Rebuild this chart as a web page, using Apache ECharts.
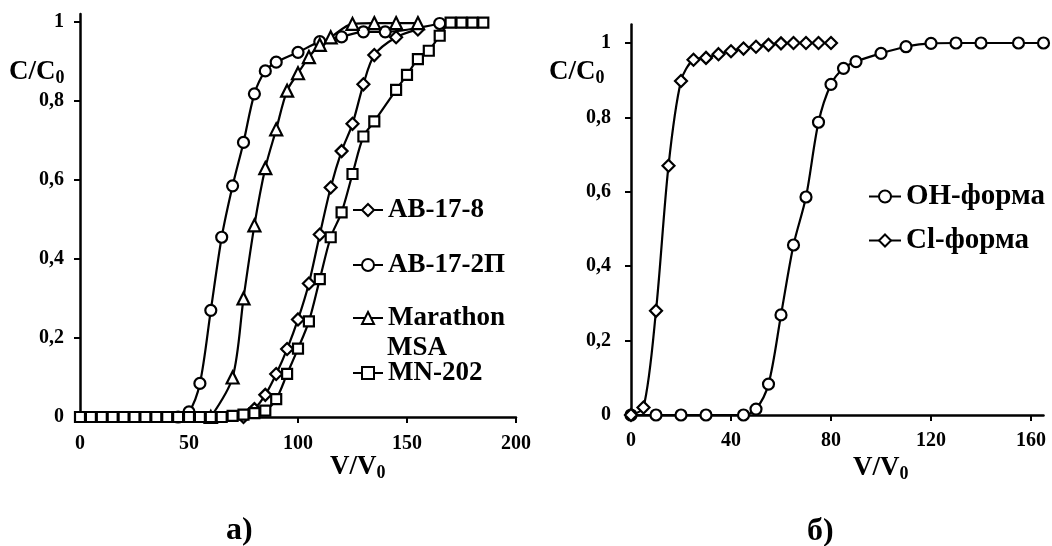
<!DOCTYPE html>
<html><head><meta charset="utf-8">
<script src="https://cdn.jsdelivr.net/npm/echarts@6/dist/echarts.min.js"></script>
<style>html,body{margin:0;padding:0;background:#fff}#c{width:1052px;height:546px}</style>
</head><body><div id="c"></div>
<script>
// ---- Panel а) ----
const ab178_x = [75,80,85,90,95,100,105,110,115,120,125,130,135,145,155];
const ab178_y = [0,0.02,0.056,0.109,0.172,0.247,0.338,0.462,0.581,0.673,0.742,0.842,0.916,0.961,0.981];
const ab172_x = [45,50,55,60,65,70,75,80,85,90,100,110,120,130,140,165];
const ab172_y = [0,0.013,0.085,0.27,0.455,0.585,0.695,0.818,0.876,0.898,0.923,0.95,0.962,0.975,0.975,0.996];
const msa_x = [60,70,75,80,85,90,95,100,105,110,115,125,135,145,155];
const msa_y = [0,0.1,0.3,0.485,0.63,0.728,0.826,0.87,0.911,0.942,0.961,0.995,0.997,0.997,0.997];
const mn_x = [0,5,10,15,20,25,30,35,40,45,50,55,60,65,70,75,80,85,90,95,100,105,110,115,120,125,130,135,145,150,155,160,165,170,175,180,185];
const mn_y = [0,0,0,0,0,0,0,0,0,0,0,0,0,0,0.003,0.006,0.01,0.016,0.045,0.109,0.173,0.242,0.349,0.455,0.518,0.615,0.71,0.748,0.828,0.866,0.906,0.927,0.965,0.998,0.998,0.998,0.998];
const namesA = ['AB-17-8','AB-17-2\u041f','Marathon MSA','MN-202'];
const xTicksA = [0,50,100,150,200];
const yTicks = [0,0.2,0.4,0.6,0.8,1];
// ---- Panel б) ----
const oh_x = [0,10,20,30,45,50,55,60,65,70,75,80,85,90,100,110,120,130,140,155,165];
const oh_y = [0,0,0,0,0,0.016,0.083,0.269,0.457,0.586,0.787,0.889,0.932,0.95,0.972,0.99,0.999,1,1,1,1];
const cl_x = [0,5,10,15,20,25,30,35,40,45,50,55,60,65,70,75,80];
const cl_y = [0,0.02,0.28,0.67,0.898,0.955,0.96,0.97,0.978,0.985,0.99,0.995,0.999,1,1,1,1];
const namesB = ['OH-\u0444\u043e\u0440\u043c\u0430','Cl-\u0444\u043e\u0440\u043c\u0430'];
const xTicksB = [0,40,80,120,160];

const FONT = 'Liberation Serif';
const zip = (xs, ys) => xs.map((x, i) => [x, ys[i]]);
const fmt = v => String(v).replace('.', ',');

function mkSeries(name, data, symbol, size, gi) {
  return {
    type: 'line', name, data, xAxisIndex: gi, yAxisIndex: gi,
    symbol, symbolSize: size, showAllSymbol: true, smooth: 0.3,
    lineStyle: { color: '#000', width: 2.2 },
    itemStyle: { color: '#fff', borderColor: '#000', borderWidth: 2.2 },
    emphasis: { disabled: true }, animation: false
  };
}
function mkX(gi, max, ticks, margin) {
  return {
    type: 'value', gridIndex: gi, min: 0, max, splitLine: { show: false },
    axisLine: { onZero: false, lineStyle: { color: '#000', width: 2.5 } },
    axisTick: { customValues: ticks, length: 6, lineStyle: { color: '#000', width: 2 } },
    axisLabel: { customValues: ticks, margin, color: '#000', fontFamily: FONT, fontWeight: 'bold', fontSize: 20 }
  };
}
function mkY(gi, max, margin) {
  return {
    type: 'value', gridIndex: gi, min: 0, max, splitLine: { show: false },
    axisLine: { show: true, onZero: false, lineStyle: { color: '#000', width: 2.5 } },
    axisTick: { show: true, customValues: yTicks, length: 6, lineStyle: { color: '#000', width: 2 } },
    axisLabel: { customValues: yTicks, formatter: fmt, margin, color: '#000', fontFamily: FONT, fontWeight: 'bold', fontSize: 20 }
  };
}
function mkLegend(name, left, top, size, w) {
  return {
    data: [name], left, top, padding: 0, itemWidth: w, itemHeight: 15, itemGap: 0,
    selectedMode: false,
    textStyle: { color: '#000', fontFamily: FONT, fontWeight: 'bold', fontSize: size, lineHeight: 28 }
  };
}
const rich = (sz, sub) => ({
  m: { fontFamily: FONT, fontWeight: 'bold', fontSize: sz, color: '#000' },
  s: { fontFamily: FONT, fontWeight: 'bold', fontSize: sub, color: '#000', padding: [Math.round(sz * 0.45), 0, 0, 0] }
});
function label(x, y, text, size) {
  return { type: 'text', x, y, silent: true,
    style: { text, fill: '#000', font: 'bold ' + size + 'px "' + FONT + '"', verticalAlign: 'middle' } };
}
function sublabel(x, y, main, sub) {
  return { type: 'text', x, y, silent: true,
    style: { text: '{m|' + main + '}{s|' + sub + '}', rich: rich(27, 18), verticalAlign: 'middle' } };
}

const chart = echarts.init(document.getElementById('c'), null, { renderer: 'canvas' });
chart.setOption({
  backgroundColor: '#fff',
  animation: false,
  grid: [
    { left: 80, top: 14, width: 436, height: 403 },
    { left: 631, top: 24.4, width: 412.5, height: 390.6 }
  ],
  xAxis: [mkX(0, 200, xTicksA, 17), mkX(1, 165, xTicksB, 16)],
  yAxis: [mkY(0, 1.02, 16), mkY(1, 1.05, 20)],
  legend: [
    mkLegend(namesA[0], 352, 196, 27, 30),
    mkLegend(namesA[1], 352, 251, 27, 30),
    mkLegend(namesA[2], 352, 304, 27, 30),
    mkLegend(namesA[3], 352, 359, 27, 30),
    mkLegend(namesB[0], 868, 182, 29, 32),
    mkLegend(namesB[1], 868, 226, 29, 32)
  ],
  series: [
    mkSeries(namesA[0], zip(ab178_x, ab178_y), 'diamond', 12, 0),
    mkSeries(namesA[1], zip(ab172_x, ab172_y), 'circle', 11, 0),
    mkSeries(namesA[2], zip(msa_x, msa_y), 'triangle', 12, 0),
    mkSeries(namesA[3], zip(mn_x, mn_y), 'rect', 10, 0),
    mkSeries(namesB[0], zip(oh_x, oh_y), 'circle', 11, 1),
    mkSeries(namesB[1], zip(cl_x, cl_y), 'diamond', 12, 1)
  ],
  graphic: [
    sublabel(9, 72, 'C/C', '0'),
    sublabel(549, 72, 'C/C', '0'),
    sublabel(330, 467, 'V/V', '0'),
    sublabel(853, 468, 'V/V', '0'),
    label(387, 348, 'MSA', 27),
    label(226, 531, '\u0430)', 32),
    label(807, 532, '\u0431)', 32)
  ]
});
chart.setOption({ legend: [{}, {}, { formatter: () => 'Marathon' }, {}, {}, {}] });
</script></body></html>
